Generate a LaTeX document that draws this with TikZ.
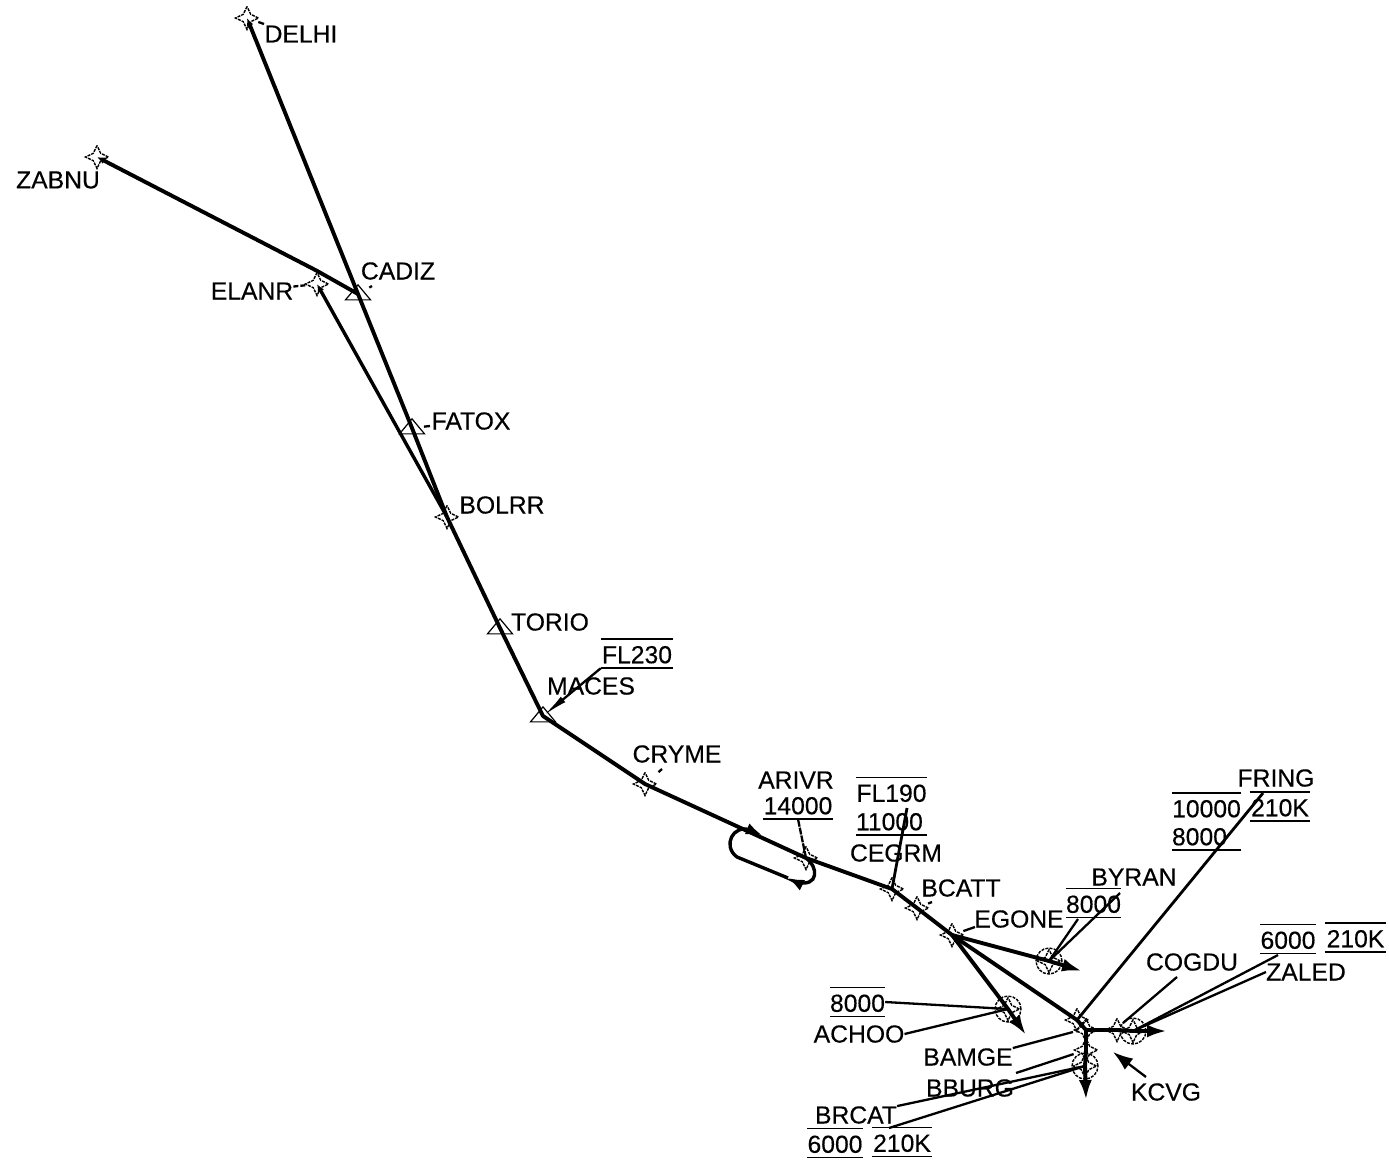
\documentclass[tikz,border=0pt]{standalone}
\usepackage{fontspec}
\newfontfamily\wpfont[FakeBold=0.35]{Liberation Sans}
\usepackage{tikz}
\usetikzlibrary{arrows.meta,shapes.geometric}
\tikzset{
    fix/.style={
    star,star points=4,star point ratio=2.2,minimum size=23pt,inner sep=0pt,draw=black,line width=1.4pt,dash pattern=on 3pt off 1pt
    },
    ring/.style={
    circle,minimum size=26pt,inner sep=0pt,draw=black,line width=1.4pt,dash pattern=on 3pt off 1.2pt
    },
    tri/.style={
    isosceles triangle,isosceles triangle stretches,shape border rotate=90,minimum width=25pt,minimum height=15pt,inner sep=0pt,draw=black,line width=1.2pt
    },
    wptext/.style={
    font=\wpfont\fontsize{24.7}{24.7}\selectfont,inner sep=0pt
    },
    limit/.style={
    wptext,minimum width=#1,minimum height=29pt,text height=19.5pt,text depth=0pt
    },
    bar/.style={
    draw=black,line width=1.5pt
    },
    topbar/.style={
    append after command={(\tikzlastnode.north west) edge[bar] (\tikzlastnode.north east)}
    },
    botbar/.style={
    append after command={(\tikzlastnode.south west) edge[bar] (\tikzlastnode.south east)}
    },
    route/.style={
    draw=black,line width=3.9pt,line join=round
    },
    branch/.style={
    route,-{Latex[length=20pt,width=13pt]}
    },
    smallend/.style={
    route,{Latex[length=8pt,width=7pt]}-
    },
    hold/.style={
    draw=black,line width=3.4pt,-{Latex[length=16pt,width=12pt]}
    },
    leader/.style={
    draw=black,line width=2.3pt
    },
}
\begin{document}
\begin{tikzpicture}[x=1pt,y=-1pt]
   \useasboundingbox (0,0) rectangle (1389,1165);
   % fixes
   \node[fix] (delhi) at (247,18) {};
   \node[fix] (zabnu) at (97,157) {};
   \node[fix] (elanr) at (317,284) {};
   \node[tri] (cadiz) at (358,294) {};
   \node[tri] (fatox) at (412,428) {};
   \node[fix] (bolrr) at (447,517) {};
   \node[tri] (torio) at (500,628) {};
   \node[tri] (maces) at (543,716) {};
   \node[fix] (cryme) at (645,784) {};
   \node[fix] (arivr) at (806,858) {};
   \node[fix] (cegrm) at (892,889) {};
   \node[fix] (bcatt) at (917,908) {};
   \node[fix] (egone) at (952,935) {};
   \node[fix] (byran) at (1049,961) {};
   \node[ring] (byranring) at (1049,961) {};
   \node[fix] (achoo) at (1008,1009) {};
   \node[ring] (achooring) at (1008,1009) {};
   \node[fix] (bamge) at (1077,1020) {};
   \node[fix] (junct) at (1086,1030) {};
   \node[fix] (cogdu) at (1117,1030) {};
   \node[fix] (zaled) at (1133,1031) {};
   \node[ring] (zaledring) at (1133,1031) {};
   \node[fix] (bburg) at (1086,1050) {};
   \node[fix] (brcat) at (1085,1066) {};
   \node[ring] (brcatring) at (1085,1066) {};
   % names
   \node[wptext] (delhiname) at (301,34) {DELHI};
   \node[wptext] (zabnuname) at (58,180) {ZABNU};
   \node[wptext] (elanrname) at (252,291) {ELANR};
   \node[wptext] (cadizname) at (398,271) {CADIZ};
   \node[wptext] (fatoxname) at (471,421) {FATOX};
   \node[wptext] (bolrrname) at (502,505) {BOLRR};
   \node[wptext] (torioname) at (550,622) {TORIO};
   \node[wptext] (macesname) at (591,686) {MACES};
   \node[wptext] (crymename) at (677,754) {CRYME};
   \node[wptext] (arivrname) at (796,780) {ARIVR};
   \node[wptext] (cegrmname) at (896,853) {CEGRM};
   \node[wptext] (bcattname) at (961,888) {BCATT};
   \node[wptext] (egonename) at (1019,919) {EGONE};
   \node[wptext] (byranname) at (1134,877) {BYRAN};
   \node[wptext] (fringname) at (1276,778) {FRING};
   \node[wptext] (cogduname) at (1192,962) {COGDU};
   \node[wptext] (zaledname) at (1306,972) {ZALED};
   \node[wptext] (achooname) at (859,1034) {ACHOO};
   \node[wptext] (bamgename) at (968,1057) {BAMGE};
   \node[wptext] (bburgname) at (970,1088) {BBURG};
   \node[wptext] (brcatname) at (856,1115) {BRCAT};
   \node[wptext] (kcvgname) at (1166,1092) {KCVG};
   % altitude and speed limits
   \node[limit=72pt,topbar,botbar] (fl230) at (637,653.5) {FL230};
   \node[limit=68pt,botbar] (alt14000) at (798,804.5) {14000};
   \node[limit=71pt,topbar] (fl190) at (891.5,792) {FL190};
   \node[limit=71pt,botbar,text width=71pt] (alt11000) at (891.5,820.5) {11000};
   \node[limit=55pt,topbar,botbar] (alt8000a) at (1093.5,903) {8000};
   \node[limit=69pt,topbar] (alt10000) at (1206.5,807.5) {10000};
   \node[limit=60pt,topbar,botbar] (spd210a) at (1280,806.5) {210K};
   \node[limit=69pt,botbar,text width=69pt] (alt8000b) at (1206.5,835.5) {8000};
   \node[limit=56pt,topbar,botbar] (alt6000a) at (1288,939) {6000};
   \node[limit=61pt,topbar,botbar] (spd210b) at (1355.5,937.5) {210K};
   \node[limit=55pt,topbar,botbar] (alt8000c) at (857.5,1002) {8000};
   \node[limit=54pt,topbar,botbar] (alt6000b) at (835,1143) {6000};
   \node[limit=60pt,topbar,botbar] (spd210c) at (902,1142) {210K};
   % free ends
   \coordinate (tipbyran) at (1082,971);
   \coordinate (tipachoo) at (1026,1035);
   \coordinate (tipzaled) at (1167,1031);
   \coordinate (tipbrcat) at (1086,1100);
   \coordinate (holdturn) at (788,878);
   \coordinate (holdback) at (762,835);
   \coordinate (kcvgfoot) at (1146,1077);
   \coordinate (kcvgtip) at (1113,1052);

   % routes
   \draw[smallend] (delhi.center) -- (cadiz.center) -- (fatox.center) -- (bolrr.center);
   \draw[smallend] (zabnu.center) -- (elanr.north) -- (cadiz.center);
   \draw[smallend,line width=3.4pt] (elanr.center) -- (bolrr.center);
   \draw[route] (bolrr.center) -- (torio.center) -- (maces.center) -- (cryme.center) -- (arivr.center) -- (cegrm.center) -- (bcatt.center) -- (egone.center);
   \draw[branch] (egone.center) -- (byran.center) -- (tipbyran);
   \draw[branch] (egone.center) -- (achoo.center) -- (tipachoo);
   \draw[route] (egone.center) -- (bamge.center) -- (junct.center);
   \draw[branch] (junct.center) -- (cogdu.center) -- (zaled.center) -- (tipzaled);
   \draw[branch] (junct.center) -- (bburg.center) -- (brcat.center) -- (tipbrcat);
   \draw[leader,-{Latex[length=20pt,width=14pt]}] (kcvgfoot) -- (kcvgtip);
   % holding pattern
   \draw[hold] (arivr.center) .. controls (818,866) and (820,888) .. (796,882) -- (holdturn);
   \draw[hold] (holdturn) -- (737,857) .. controls (722,846) and (733,824) .. (750,830) -- (holdback);

   % leaders
   \draw[leader,shorten <=12pt] (delhi.center) -- (264,24);
   \draw[leader,dash pattern=on 5pt off 2pt] (elanrname) -- (elanr);
   \draw[leader,shorten <=13pt] (cadiz.center) -- (372,286);
   \draw[leader,shorten <=12pt] (fatox.center) -- (430,426);
   \draw[leader,{Latex[length=26pt,width=7pt]}-] (maces.center) -- (fl230.south west);
   \draw[leader,shorten <=18pt] (cryme.center) -- (662,769);
   \draw[leader,dash pattern=on 7pt off 1pt] (arivr.center) -- (alt14000.south);
   \draw[leader,line width=2.8pt] (cegrm.center) -- (907,808);
   \draw[leader,shorten <=12pt] (bcatt.center) -- (932,902);
   \draw[leader,shorten <=12pt] (egone.center) -- (975,927);
   \draw[leader] (byran.center) -- (1078,919);
   \draw[leader] (byran.center) -- (1120,893);
   \draw[leader] (achoo.center) -- (alt8000c.east);
   \draw[leader] (achoo.center) -- (achooname.east);
   \draw[leader] (bamgename.north east) -- (1073,1032);
   \draw[leader,shorten <=13pt] (bburg.center) -- (1016,1073);
   \draw[leader] (brcat.center) -- (brcatname.north east);
   \draw[leader] (brcat.center) -- (889,1128);
   \draw[leader,line width=2.8pt] (bamge.center) -- (1263,793);
   \draw[leader] (1123,1023) -- (1177,977);
   \draw[leader] (zaled.center) -- (1278,955);
   \draw[leader] (zaled.center) -- (zaledname.west);
\end{tikzpicture}
\end{document}
